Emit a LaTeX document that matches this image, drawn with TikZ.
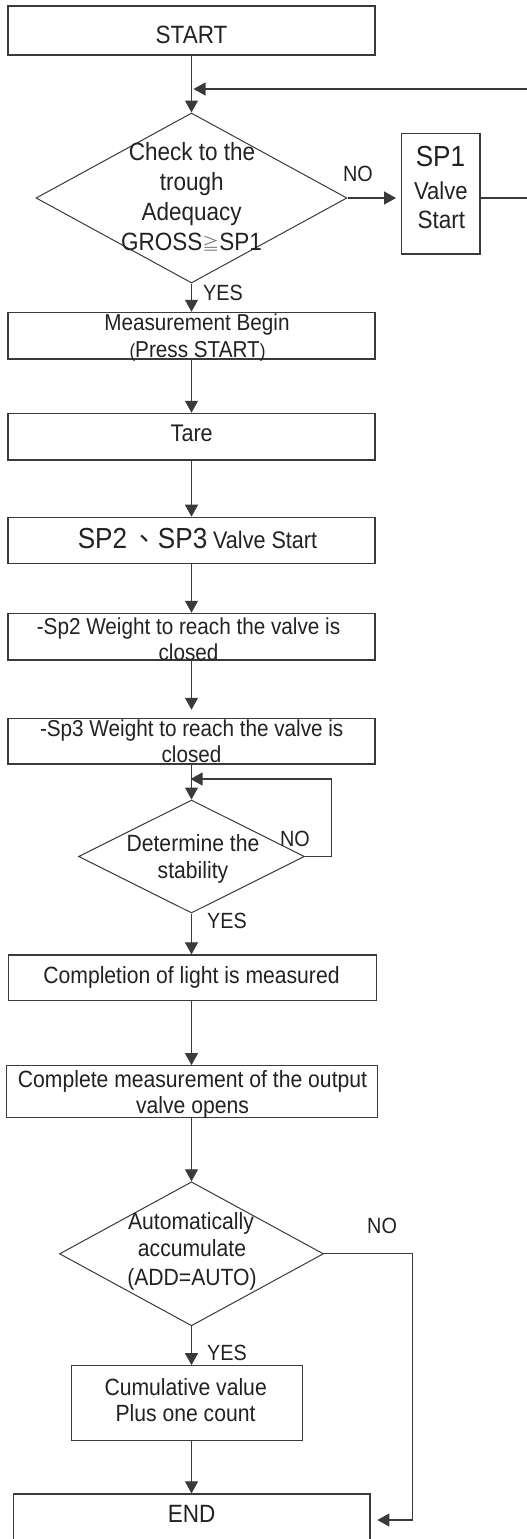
\documentclass[tikz,border=0pt]{standalone}
\usepackage{fontspec}
\setmainfont{Liberation Sans}[FakeStretch=0.9]
\newfontfamily\nf{Liberation Sans}[FakeStretch=0.9]
\newfontfamily\cjk{Noto Sans CJK TC}
\usetikzlibrary{arrows.meta,shapes.geometric}
\definecolor{linec}{HTML}{3A3A3A}
\definecolor{textc}{HTML}{222222}
\tikzset{
  box/.style={draw=linec,line width=1.2pt,rectangle,inner sep=0pt},
  dia/.style={draw=linec,line width=1pt,diamond,inner sep=0pt},
  txt/.style={inner sep=0pt,anchor=base,text=textc,font=\nf\fontsize{23.5}{28}\selectfont},
  lbl/.style={inner sep=0pt,anchor=base west,text=textc,font=\nf\fontsize{22}{26}\selectfont},
  arr/.style={draw=linec,line width=1.1pt,-{Triangle[length=12pt,width=13pt]}},
  ln/.style={draw=linec,line width=1.1pt}
}
\begin{document}
\begin{tikzpicture}[x=1pt,y=-1pt]
\useasboundingbox (0,0) rectangle (527,1539);
\fill[white] (0,0) rectangle (527,1539);
% boxes
\node[box,minimum width=367pt,minimum height=49pt] (start) at (191.5,30.5) {};
\node[dia,minimum width=311pt,minimum height=170pt] (d1) at (191.5,198) {};
\node[box,minimum width=78.3pt,minimum height=120.7pt] (sp1) at (440.8,193.7) {};
\node[box,minimum width=367pt,minimum height=46.7pt] (meas) at (191.5,335.7) {};
\node[box,minimum width=367pt,minimum height=46.7pt] (tare) at (191.5,436.7) {};
\node[box,minimum width=367pt,minimum height=46pt] (sp23) at (191.5,540.3) {};
\node[box,minimum width=367pt,minimum height=46.7pt] (sp2w) at (191.5,636.7) {};
\node[box,minimum width=367pt,minimum height=45.7pt] (sp3w) at (191.5,741.2) {};
\node[dia,minimum width=226pt,minimum height=113pt] (d2) at (191.5,856.5) {};
\node[box,minimum width=368pt,minimum height=45.7pt] (compl) at (192.7,977.8) {};
\node[box,minimum width=371pt,minimum height=51.6pt] (cmeas) at (192.2,1091.5) {};
\node[dia,minimum width=264pt,minimum height=144pt] (d3) at (191.5,1253.8) {};
\node[box,minimum width=231pt,minimum height=75pt] (cum) at (187.2,1403.2) {};
\node[box,minimum width=356.7pt,minimum height=66pt] (end) at (191.7,1527) {};
% texts
\node[txt,font=\nf\fontsize{25}{30}\selectfont] (tstart) at (191.5,43.3) {START};
\node[txt,font=\nf\fontsize{25}{30}\selectfont] (td1a) at (192,160) {Check to the};
\node[txt,font=\nf\fontsize{25}{30}\selectfont] (td1b) at (191.7,190) {trough};
\node[txt,font=\nf\fontsize{25}{30}\selectfont] (td1c) at (191.7,220) {Adequacy};
\node[txt,font=\nf\fontsize{25}{30}\selectfont] (td1d) at (191.5,250.7) {GROSS{\cjk\fontsize{17}{20}\selectfont\color{gray}≧}SP1};
\node[txt,font=\nf\fontsize{29}{34}\selectfont] (tsp1a) at (440.5,166.7) {SP1};
\node[txt,font=\nf\fontsize{24.5}{30}\selectfont] (tsp1b) at (440.8,199) {Valve};
\node[txt,font=\nf\fontsize{25}{30}\selectfont] (tsp1c) at (441.3,228.3) {Start};
\node[txt,font=\nf\fontsize{23}{28}\selectfont] (tmeasa) at (197,330.7) {Measurement Begin};
\node[txt,font=\nf\fontsize{23}{28}\selectfont] (tmeasb) at (197.5,357) {{\fontsize{19}{20}\selectfont(}Press START{\fontsize{19}{20}\selectfont)}};
\node[txt,font=\nf\fontsize{24}{30}\selectfont] (ttare) at (191.7,441.7) {Tare};
\node[txt] (tsp23) at (197.5,548.3) {{\fontsize{29}{34}\selectfont SP2\,{\cjk\fontsize{26}{30}\selectfont 、}SP3} {\fontsize{24}{30}\selectfont Valve Start}};
\node[txt,font=\nf\fontsize{23}{28}\selectfont] (tsp2wa) at (188.5,634) {-Sp2 Weight to reach the valve is};
\node[txt,font=\nf\fontsize{23}{28}\selectfont] (tsp2wb) at (188.5,660) {closed};
\node[txt,font=\nf\fontsize{23}{28}\selectfont] (tsp3wa) at (191.7,736.7) {-Sp3 Weight to reach the valve is};
\node[txt,font=\nf\fontsize{23}{28}\selectfont] (tsp3wb) at (191.5,762.7) {closed};
\node[txt] (td2a) at (193,851.7) {Determine the};
\node[txt] (td2b) at (193,878.3) {stability};
\node[txt] (tcompl) at (191.5,983.3) {Completion of light is measured};
\node[txt] (tcmeasa) at (192.5,1087.3) {Complete measurement of the output};
\node[txt] (tcmeasb) at (192.5,1113.3) {valve opens};
\node[txt] (td3a) at (191,1229.5) {Automatically};
\node[txt] (td3b) at (192,1256.7) {accumulate};
\node[txt] (td3c) at (192,1285) {(ADD=AUTO)};
\node[txt] (tcuma) at (185.7,1395) {Cumulative value};
\node[txt] (tcumb) at (185.5,1421.7) {Plus one count};
\node[txt,font=\nf\fontsize{25}{30}\selectfont] (tend) at (191.7,1522.7) {END};
% labels
\node[lbl] (no1) at (343,181.7) {NO};
\node[lbl] (yes1) at (203,300.7) {YES};
\node[lbl] (no2) at (280,846.7) {NO};
\node[lbl] (yes2) at (207,928.3) {YES};
\node[lbl] (no3) at (367,1233.3) {NO};
\node[lbl] (yes3) at (207,1360) {YES};
% coordinates
\coordinate (fbr) at (545,89);
\coordinate (l2) at (331.7,779);
\coordinate (r3) at (412.7,1520);
% connectors
\draw[arr] (start.south) -- (d1.north);
\draw[arr,shorten >=5pt] (d1.east) -- (sp1.west |- d1.east);
\draw[arr,shorten >=2pt] (sp1.east |- d1.east) -- (fbr |- d1.east) -- (fbr) -- (d1.north |- fbr);
\draw[arr] (d1.south) -- (meas.north);
\draw[arr] (meas.south) -- (tare.north);
\draw[arr] (tare.south) -- (sp23.north);
\draw[arr] (sp23.south) -- (sp2w.north);
\draw[arr,shorten >=8pt] (sp2w.south) -- (sp3w.north);
\draw[arr] (sp3w.south) -- (d2.north);
\draw[arr,shorten >=-1pt] (d2.east) -- (l2 |- d2.east) -- (l2) -- (d2.north |- l2);
\draw[arr] (d2.south) -- (d2.south |- compl.north);
\draw[arr] (d2.south |- compl.south) -- (d2.south |- cmeas.north);
\draw[arr] (d3.north |- cmeas.south) -- (d3.north);
\draw[arr] (d3.south) -- (d3.south |- cum.north);
\draw[arr] (d3.south |- cum.south) -- (d3.south |- end.north);
\draw[arr,shorten >=6.7pt] (d3.east) -- (r3 |- d3.east) -- (r3) -- (end.east |- r3);
\end{tikzpicture}
\end{document}
